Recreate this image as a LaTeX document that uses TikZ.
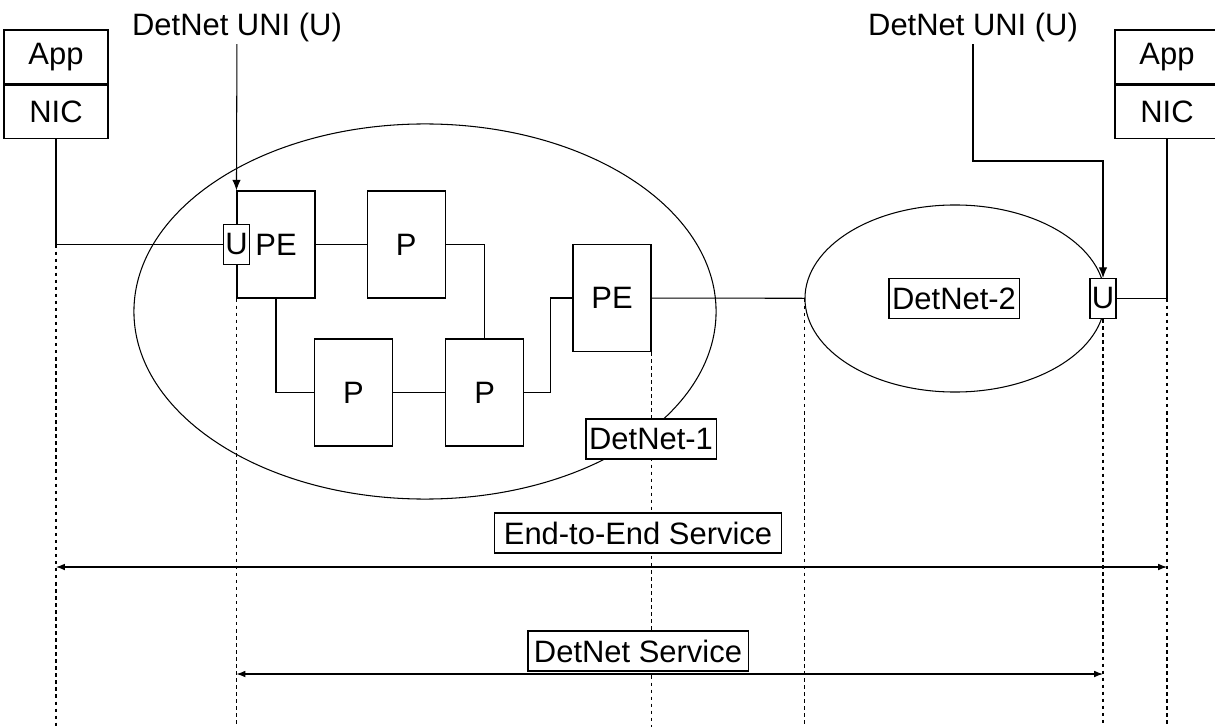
\documentclass[tikz,border=0pt]{standalone}
\usepackage{fontspec}
\setmainfont{Liberation Sans}
\usepackage{tikz}
\usetikzlibrary{shapes,arrows.meta,calc,positioning}
\tikzset{
    box/.style ={rectangle, draw, fill=white, minimum width=1.95cm, minimum height=2.675cm, inner sep=0pt},
    stack/.style = {rectangle, draw, minimum width=2.6cm, minimum height=1.35cm, inner sep=0pt},
    uni/.style = {rectangle, draw, fill=white, minimum width=0.65cm, minimum height=1cm, inner sep=0pt},
    tag/.style = {rectangle, draw, fill=white, minimum height=1cm, inner sep=0pt},
    net/.style = {ellipse, draw, inner sep=0pt},
    guide/.style = {dash pattern=on 2.5pt off 2.5pt},
    span/.style = {Latex-Latex}
}

\begin{document}
\begin{tikzpicture}[x=0.025cm, y=-0.025cm, line width=0.75pt,
    font=\fontsize{22}{26}\selectfont, >={Latex[length=7.5pt,width=6pt]}]
  \useasboundingbox (0,0) rectangle (1215,727);

  % Draw the networks
  \node[net, minimum width=14.55cm, minimum height=9.375cm] (dn1) at (425,311.5) {};
  \node[net, minimum width=7.5cm, minimum height=4.675cm] (dn2) at (955,298.5) {};

  % Draw the end hosts
  \node[stack] (appL) at (56,57) {App};
  \node[stack, minimum height=1.325cm] (nicL) [below=0pt of appL] {NIC};
  \node[stack] (appR) at (1167,57) {App};
  \node[stack, minimum height=1.325cm] (nicR) [below=0pt of appR] {NIC};

  % Draw the routers
  \node[box] (pe1) at (276,244.5) {PE};
  \node[box] (p1) [right=1.275cm of pe1] {P};
  \node[box] (p2) at (353.5,392.5) {P};
  \node[box] (p3) [right=1.3cm of p2] {P};
  \node[box] (pe2) at (612,298) {PE};
  \node[uni] (u1) at (pe1.west) {U};
  \node[uni] (u2) at (1103,298.5) {U};

  \node[inner sep=1.5pt] (uniL) at (237,27) {DetNet UNI (U)};
  \node[inner sep=1.5pt] (uniR) at (973,27) {DetNet UNI (U)};
  \coordinate (bend) at (1103,161);

  % Draw the links
  \draw[->] (uniL) -- (pe1.north west);
  \draw[->] (uniR) |- (bend) -- (u2);
  \draw (nicL) |- (u1);
  \draw (pe1) -- (p1);
  \draw (p1) -| (p3);
  \draw (pe1) |- (p2);
  \draw (p2) -- (p3);
  \draw (p3.east) -- ++(26,0) |- (pe2);
  \draw (pe2) -- (dn2);
  \draw (u2) -| (nicR);

  % Draw the guides
  \coordinate (bottom) at (0,727);
  \draw[guide] (nicL |- u1) -- (nicL |- bottom);
  \draw[guide] (pe1.south west) -- (pe1.south west |- bottom);
  \draw[guide] (pe2.south east) -- (pe2.south east |- bottom);
  \draw[guide] (dn2.west) -- (dn2.west |- bottom);
  \draw[guide] (u2.south) -- (u2 |- bottom);
  \draw[guide] (nicR |- u2) -- (nicR |- bottom);

  % Draw the labels
  \node[tag, minimum width=3.25cm] (lab1) at (651,439) {DetNet-1};
  \node[tag, minimum width=3.25cm] (lab2) at (954,298.5) {DetNet-2};
  \node[tag, minimum width=7.15cm] (e2e) at (638,533) {End-to-End Service};
  \node[tag, minimum width=5.5cm] (svc) at (638,651) {DetNet Service};

  % Draw the services
  \coordinate (row1) at (0,567);
  \coordinate (row2) at (0,674);
  \draw[span] (nicL |- row1) -- (nicR |- row1);
  \draw[span] (pe1.south west |- row2) -- (u2 |- row2);
\end{tikzpicture}
\end{document}
